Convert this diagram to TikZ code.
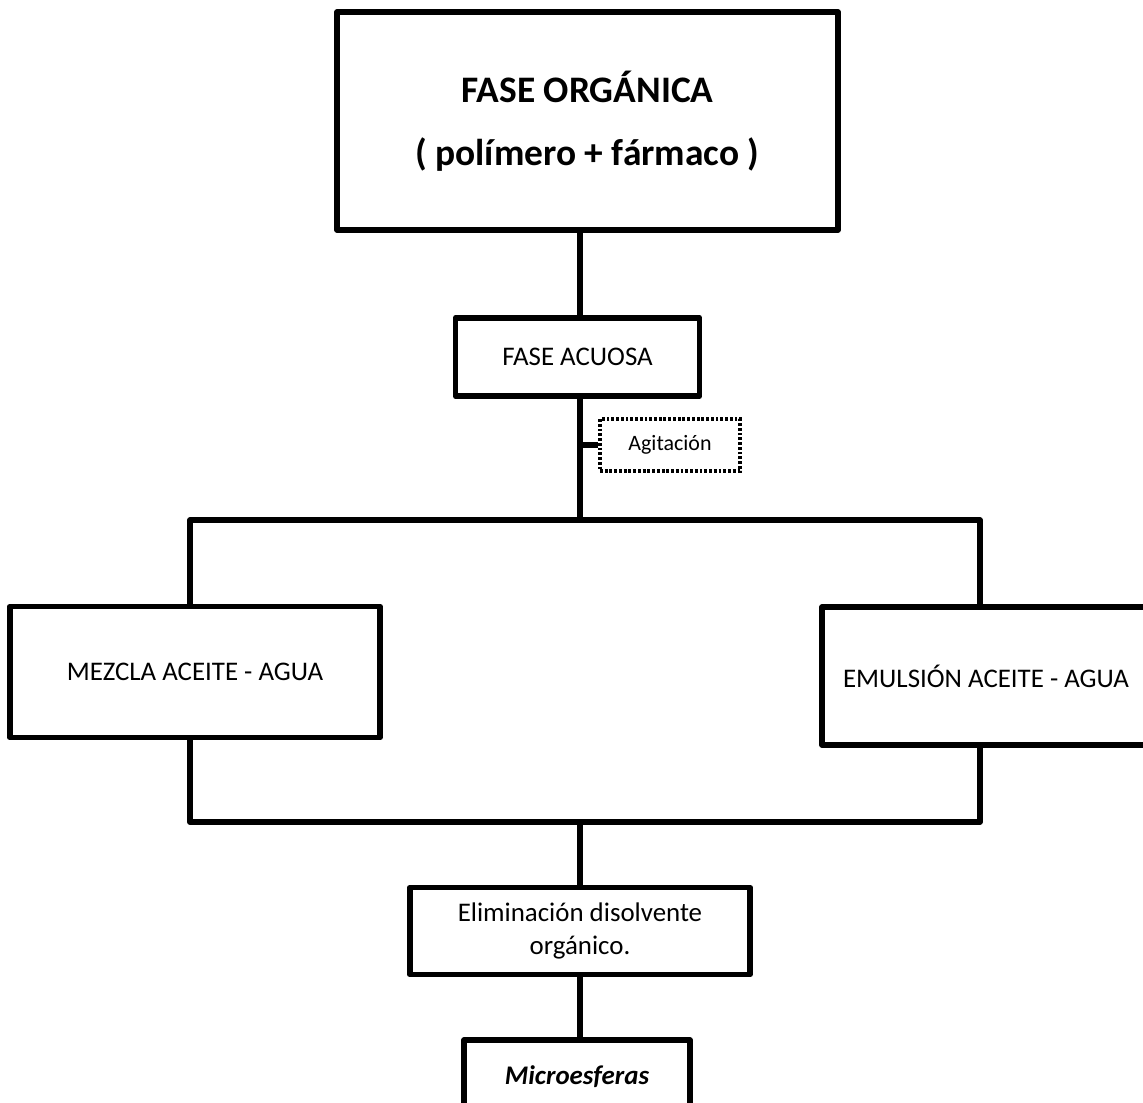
\documentclass[tikz,border=0pt]{standalone}
\usepackage{fontspec}
\setmainfont{Carlito}
\usetikzlibrary{positioning}

\tikzset{
  caja/.style={draw, line width=3.3pt, line join=round, rectangle, align=center, inner sep=2pt, font=\fontsize{15.3}{19}\selectfont},
  nota/.style={draw, line width=1.9pt, dash pattern=on 1.6pt off 1.1pt, align=center, inner sep=2pt, font=\fontsize{12.5}{15}\selectfont},
  linea/.style={line width=3.3pt, line join=round},
}

\begin{document}
\begin{tikzpicture}

\useasboundingbox (0,0) rectangle (22.86,-22.04);

% Fase organica (arriba)
\node[caja, minimum width=10.02cm, minimum height=4.36cm, font=\bfseries\fontsize{21.3}{24}\selectfont] (organica) at (11.75,-2.42) {FASE ORGÁNICA\\[12pt]( polímero + fármaco )};

% Fase acuosa + agitacion
\node[caja, minimum width=4.88cm, minimum height=1.56cm] (acuosa) at (11.55,-7.14) {FASE ACUOSA};
\node[nota, minimum width=2.8cm, minimum height=1.04cm] (agitacion) at (13.4,-8.9) {Agitación};

% Coordenadas de la rama
\coordinate (arriba) at (11.6,-10.4);
\coordinate (abajo) at (11.6,-16.44);
\coordinate (izq) at (3.8,0);
\coordinate (der) at (19.6,0);

% Las dos ramas
\node[caja, minimum width=7.4cm, minimum height=2.62cm] (mezcla) at (3.9,-13.44) {MEZCLA ACEITE - AGUA};
\node[caja, minimum width=6.56cm, minimum height=2.76cm] (emulsion) at (19.72,-13.52) {EMULSIÓN ACEITE - AGUA};

% Final
\node[caja, minimum width=6.8cm, minimum height=1.74cm] (elim) at (11.6,-18.62) {Eliminación disolvente\\orgánico.};
\node[caja, minimum width=4.52cm, minimum height=1.8cm, font=\bfseries\itshape\fontsize{15.3}{19}\selectfont] (micro) at (11.54,-21.7) {\raisebox{11pt}{Microesferas}};

% Conectores
\draw[linea] (organica.south -| arriba) -- (acuosa.north -| arriba);
\draw[linea] (acuosa.south -| arriba) -- (arriba);
\draw[linea] (agitacion.west) -- (agitacion.west -| arriba);
\draw[linea] (mezcla.north -| izq) |- (arriba) -| (emulsion.north -| der);
\draw[linea] (mezcla.south -| izq) |- (abajo) -| (emulsion.south -| der);
\draw[linea] (abajo) -- (elim.north -| abajo);
\draw[linea] (elim.south -| abajo) -- (micro.north -| abajo);

\end{tikzpicture}
\end{document}
